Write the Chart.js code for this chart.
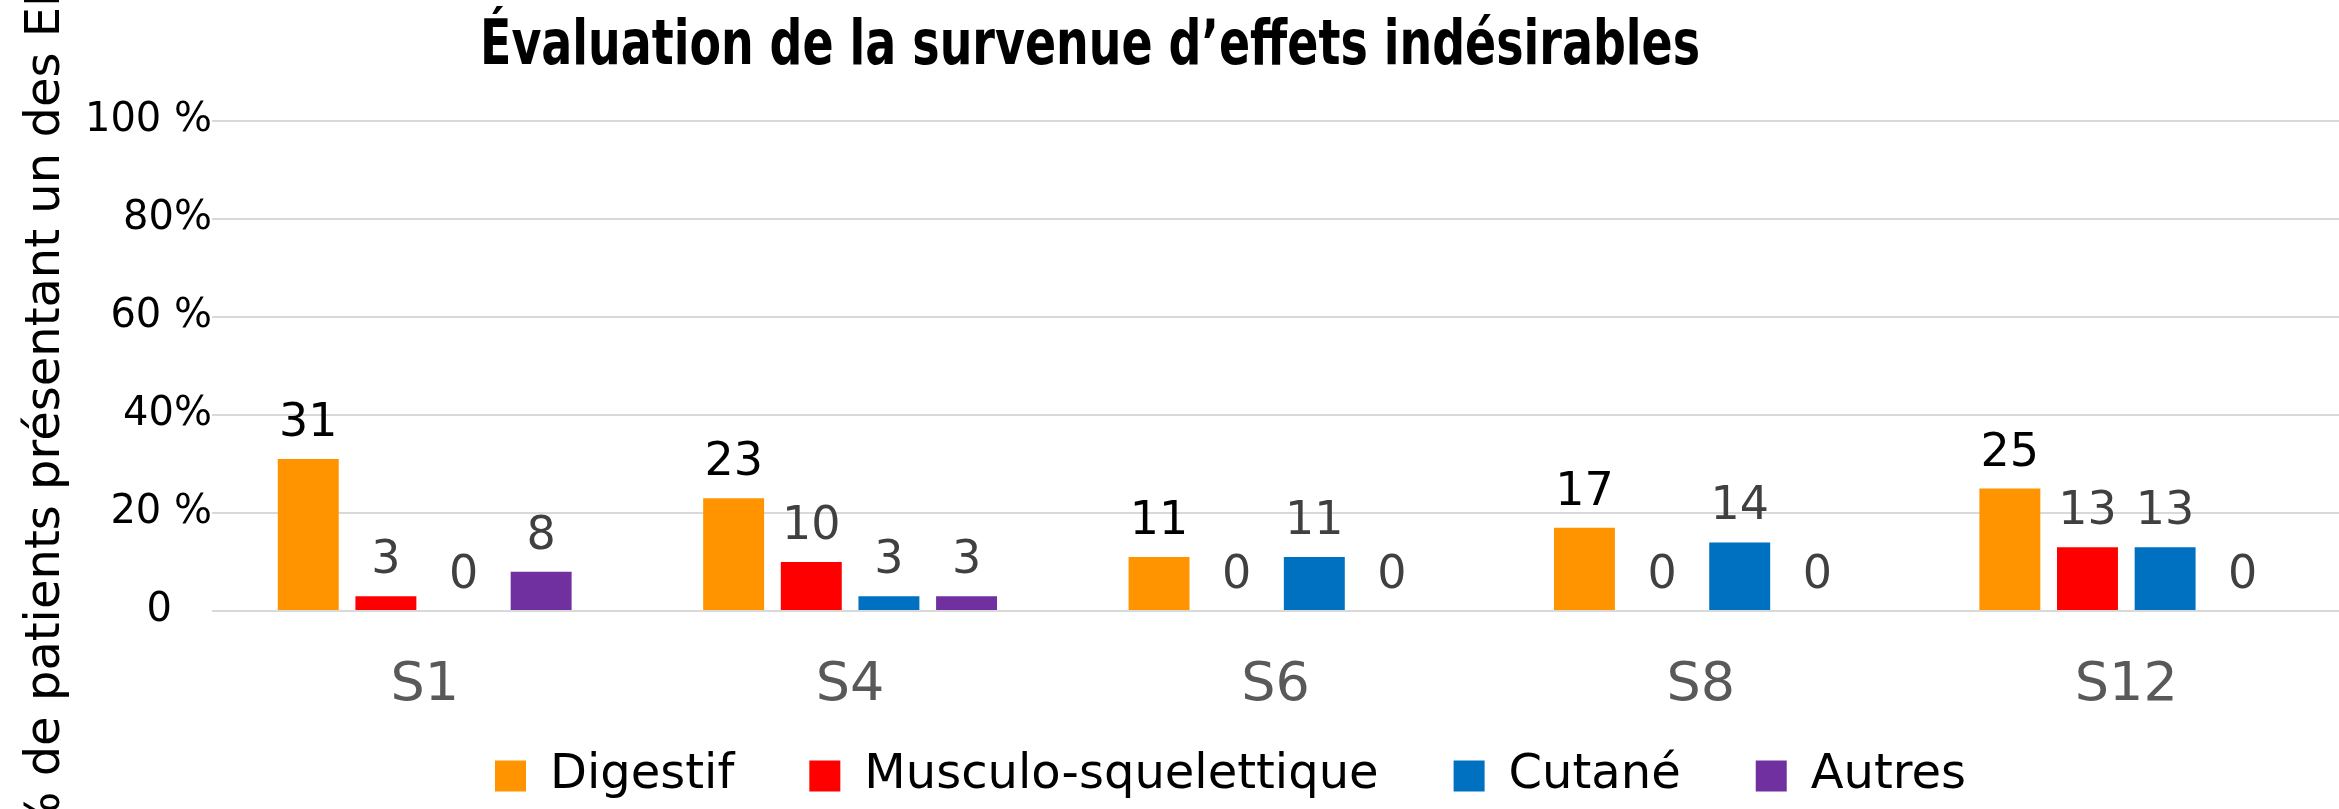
<!DOCTYPE html>
<html>
<head>
<meta charset="utf-8">
<script src="https://cdn.jsdelivr.net/npm/chart.js@4"></script>
<style>
  body { margin: 0; background: #fff; }
</style>
</head>
<body>
<canvas id="chart" width="2339" height="809"></canvas>
<script>
// donnees
const categories = ['S1', 'S4', 'S6', 'S8', 'S12'];
const digestif = [31, 23, 11, 17, 25];
const musculo = [3, 10, 0, 0, 13];
const cutane = [0, 3, 11, 14, 13];
const autres = [8, 3, 0, 0, 0];
const yTickLabels = ['0\u2002\u2002', '20 %', '40%', '60 %', '80%', '100 %'];

const titre = 'Évaluation de la survenue d\u2019effets indésirables';
const titreAxeY = '% de patients présentant un des EI';

const police = '"DejaVu Sans", sans-serif';

// titre + titre axe Y dessines a la main (positions hors centre)
const textes = {
    id: 'textes',
    afterLayout(chart) {
        // legende : recentrer et remonter (padding vertical = padding horizontal dans Chart.js)
        const lg = chart.legend;
        const dx = 18;
        lg.left += dx;
        lg.right += dx;
        lg.top = 776 - 75 - 24;
        lg.bottom = chart.height;
    },
    afterDraw(chart) {
        const ctx = chart.ctx;
        ctx.save();
        ctx.fillStyle = '#000';
        ctx.font = 'bold 62px "DejaVu Sans Condensed", "DejaVu Sans", sans-serif';
        ctx.textAlign = 'center';
        ctx.textBaseline = 'alphabetic';
        const w = ctx.measureText(titre).width;
        ctx.save();
        ctx.translate(1090, 64);
        ctx.scale(1220 / w, 1);
        ctx.fillText(titre, 0, 0);
        ctx.restore();

        ctx.font = '48px ' + police;
        ctx.translate(59, 415);
        ctx.rotate(-Math.PI / 2);
        ctx.fillText(titreAxeY, 0, 0);
        ctx.restore();
    }
}

// etiquettes de valeurs au-dessus des barres
const etiquettes = {
    id: 'etiquettes',
    afterDatasetsDraw(chart) {
        const ctx = chart.ctx;
        ctx.save();
        ctx.font = '46px ' + police;
        ctx.textAlign = 'center';
        ctx.textBaseline = 'alphabetic';
        chart.data.datasets.forEach((ds, i) => {
            const meta = chart.getDatasetMeta(i);
            ctx.fillStyle = i == 0 ? '#000000' : '#404040';
            meta.data.forEach((bar, j) => {
                ctx.fillText(String(ds.data[j]), bar.x, bar.y - 23);
            });
        });
        ctx.restore();
    }
}

const data = {
    labels: categories,
    datasets: [{
        label: 'Digestif',
        data: digestif,
        backgroundColor: '#FF9300'
    }, {
        label: 'Musculo-squelettique',
        data: musculo,
        backgroundColor: '#FF0000'
    }, {
        label: 'Cutané',
        data: cutane,
        backgroundColor: '#0070C0'
    }, {
        label: 'Autres',
        data: autres,
        backgroundColor: '#7030A0'
    }]
}

const config = {
    type: 'bar',
    data,
    options: {
        responsive: false,
        animation: false,
        categoryPercentage: 0.73,
        barPercentage: 0.785,
        layout: {
            padding: { top: 121, left: 86, right: 0, bottom: 0 }
        },
        scales: {
            x: {
                afterFit(scale) { scale.height = 110; },
                grid: { display: false, drawTicks: false },
                border: { display: false },
                ticks: {
                    color: '#595959',
                    font: { family: police, size: 54 },
                    padding: 43
                }
            },
            y: {
                min: 0,
                max: 100,
                afterFit(scale) { scale.width = 126; },
                grid: { color: '#D9D9D9', lineWidth: 2, drawTicks: false },
                border: { display: false },
                ticks: {
                    stepSize: 20,
                    padding: 0,
                    color: '#000',
                    font: { family: police, size: 40 },
                    callback: (v, i) => yTickLabels[i]
                }
            }
        },
        plugins: {
            title: { display: false },
            tooltip: { enabled: false },
            legend: {
                position: 'bottom',
                maxHeight: 88,
                labels: {
                    boxWidth: 31,
                    boxHeight: 31,
                    padding: 75,
                    color: '#000',
                    font: { family: police, size: 48 }
                }
            }
        }
    },
    plugins: [textes, etiquettes]
}

var chart = document.getElementById('chart');
var myChart = new Chart(chart, config);
</script>
</body>
</html>
